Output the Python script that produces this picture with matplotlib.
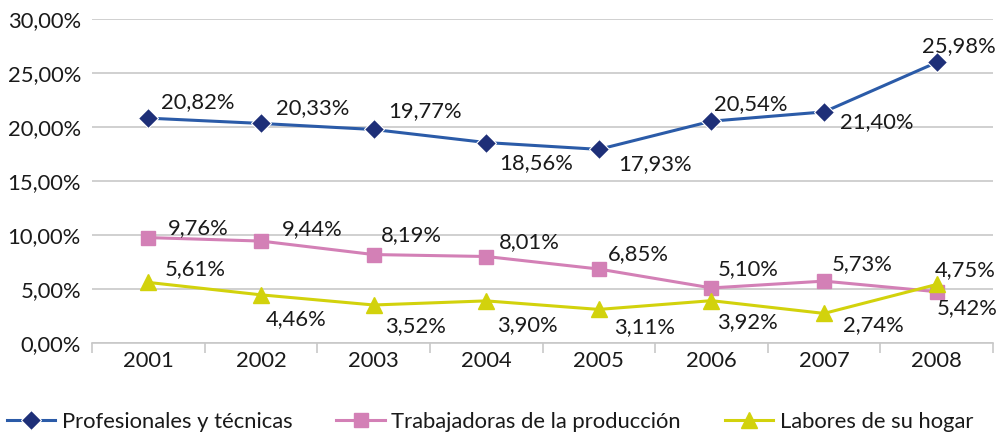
import matplotlib
matplotlib.use("Agg")
import matplotlib.pyplot as plt
from matplotlib.ticker import FuncFormatter

years = ["2001", "2002", "2003", "2004", "2005", "2006", "2007", "2008"]
profesionales = [20.82, 20.33, 19.77, 18.56, 17.93, 20.54, 21.40, 25.98]
trabajadoras = [9.76, 9.44, 8.19, 8.01, 6.85, 5.10, 5.73, 4.75]
labores = [5.61, 4.46, 3.52, 3.90, 3.11, 3.92, 2.74, 5.42]
series_names = ["Profesionales y técnicas", "Trabajadoras de la producción", "Labores de su hogar"]

# label offsets in pixels (left edge dx, vertical centre dy) relative to each marker
prof_off = [(13, 16), (15, 15), (15, 18), (13, -21), (19, -15), (3, 17), (16, -10), (-15, 16)]
trab_off = [(20, 10), (21, 12), (7, 19), (13, 14), (9, 15), (6, 19), (8, 17), (-2, 22)]
lab_off = [(16, 13), (5, -24), (12, -21), (11, -24), (15, -18), (6, -21), (19, -12), (0, -24)]

FS = 15.8
plt.rcParams['font.family'] = ['Lato', 'DejaVu Sans']
fig = plt.figure(figsize=(10, 4.32), dpi=100)
ax = fig.add_axes([0.092, 0.206, 0.901, 0.750])

x = list(range(len(years)))
ax.plot(x, profesionales, color='#2B5BA8', lw=2.2, marker='D', ms=10,
        markerfacecolor='#1E2F78', markeredgecolor='white', markeredgewidth=0.8,
        label=series_names[0], zorder=3)
ax.plot(x, trabajadoras, color='#D380B6', lw=2.2, marker='s', ms=10,
        markerfacecolor='#D380B6', markeredgecolor='#D380B6',
        label=series_names[1], zorder=3)
ax.plot(x, labores, color='#D2D20C', lw=2.2, marker='^', ms=12,
        markerfacecolor='#D2D20C', markeredgecolor='#D2D20C',
        label=series_names[2], zorder=3)

def fmt(v):
    return f"{v:.2f}%".replace('.', ',')

def place(vals, offs):
    for i, (v, off) in enumerate(zip(vals, offs)):
        ax.annotate(fmt(v), (i, v), xytext=off, textcoords='offset pixels',
                    ha='left', va='center', fontsize=FS, color='#1a1a1a',
                    annotation_clip=False, zorder=4)

place(profesionales, prof_off)
place(trabajadoras, trab_off)
place(labores, lab_off)

ax.set_xlim(-0.5, len(years) - 0.5)
ax.set_ylim(0, 30)
ax.set_yticks([0, 5, 10, 15, 20, 25, 30])
ax.yaxis.set_major_formatter(FuncFormatter(lambda v, p: f"{v:.2f}%".replace('.', ',')))
ax.set_xticks(x)
ax.set_xticklabels(years)
ax.set_xticks([i - 0.5 for i in range(len(years) + 1)], minor=True)
ax.tick_params(axis='x', which='major', length=0, pad=6, labelsize=FS, colors='#1a1a1a')
ax.tick_params(axis='x', which='minor', length=7, width=1.2, color='#c8c8c8')
ax.tick_params(axis='y', length=0, pad=8, labelsize=FS, colors='#1a1a1a')
ax.grid(axis='y', color='#c8c8c8', lw=1.2)
ax.set_axisbelow(True)
for s in ['top', 'right', 'left']:
    ax.spines[s].set_visible(False)
ax.spines['bottom'].set_color('#c8c8c8')
ax.spines['bottom'].set_linewidth(1.2)

fig.legend(loc='lower center', bbox_to_anchor=(0.49, -0.045), ncol=3, frameon=False,
           fontsize=FS, handlelength=2.2, handletextpad=0.3, columnspacing=2.0,
           labelcolor='#1a1a1a')

fig.savefig("out.png", dpi=100)
